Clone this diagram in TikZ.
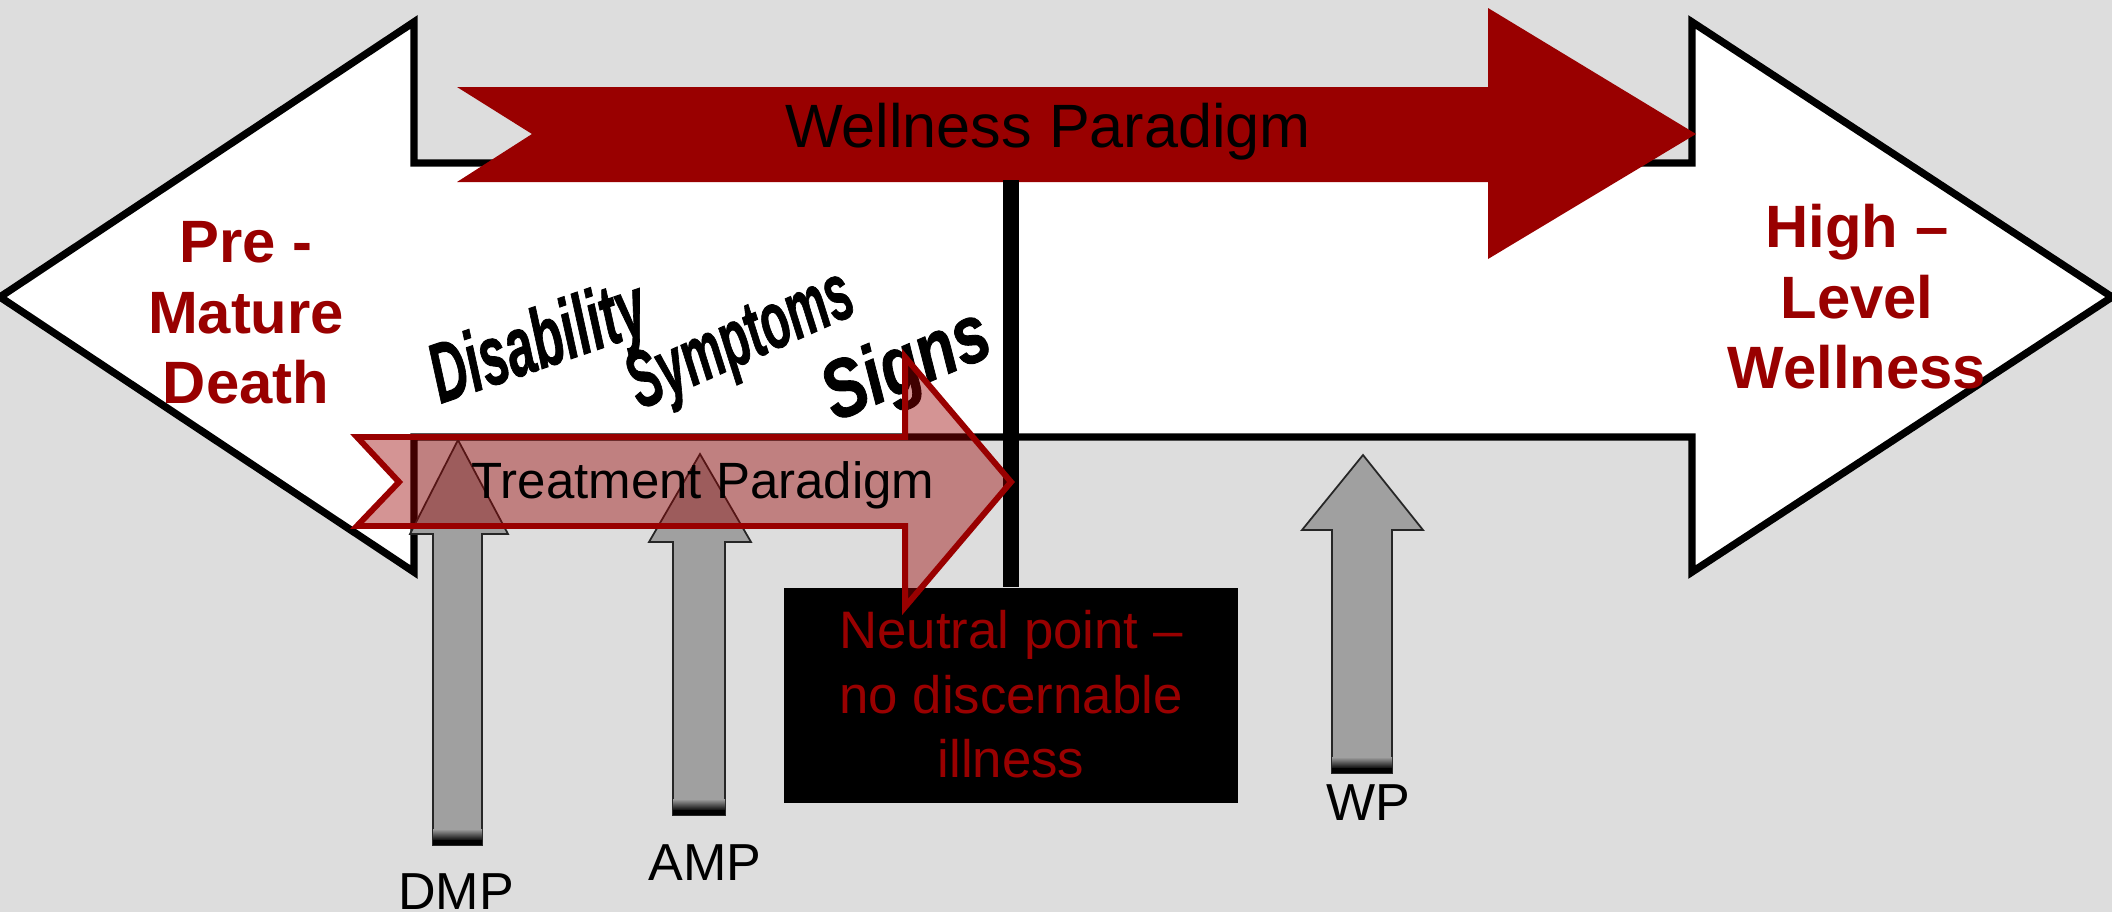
\documentclass[tikz,border=0pt]{standalone}
\usepackage{fontspec}
\setmainfont{Liberation Sans}
\newfontfamily\wafont{Liberation Sans}[BoldItalicFeatures={FakeBold=1.2}]
\definecolor{dred}{HTML}{990000}
\definecolor{bgc}{HTML}{DDDDDD}
\definecolor{arrgray}{HTML}{A0A0A0}
\newcommand{\GrArrow}[8]{%
  \filldraw[uparrow] (#1,#2) -- (#5,#3) -- (#7,#3) -- (#7,#8) -- (#6,#8) -- (#6,#3) -- (#4,#3) -- cycle;
  \shade[top color=arrgray,bottom color=black] (#6,{#8-16}) rectangle (#7,{#8-4});
  \fill[black] (#6,{#8-5}) rectangle (#7,#8);
}
\begin{document}
\begin{tikzpicture}[x=0.01cm,y=-0.01cm,
  outline/.style={draw=black,line width=2.1pt,fill=white},
  uparrow/.style={fill=arrgray,draw=black!85,line width=0.5pt,line join=miter},
  lbl/.style={inner sep=0pt,anchor=base},
  bigred/.style={lbl,text=dred,font=\bfseries\fontsize{17pt}{20pt}\selectfont},
  neutral/.style={lbl,text=dred,font=\fontsize{15pt}{18pt}\selectfont},
  small/.style={lbl,font=\fontsize{14.8pt}{17pt}\selectfont},
  slant/.style={inner sep=0pt,anchor=base west}]
\fill[bgc] (0,0) rectangle (2112,912);
\useasboundingbox (0,0) rectangle (2112,912);
% white double arrow
\draw[outline] (0,297) -- (414,22) -- (414,163) -- (1692,163) -- (1692,22) -- (2112,297)
  -- (1692,572) -- (1692,437) -- (414,437) -- (414,572) -- cycle;
% wellness paradigm arrow
\fill[dred] (457,87) -- (1488,87) -- (1488,8) -- (1696,134) -- (1488,259) -- (1488,182)
  -- (457,182) -- (532,134) -- cycle;
\node[lbl,font=\fontsize{17.4pt}{20pt}\selectfont] (wp) at (1048,147) {Wellness Paradigm};
% neutral line and box
\coordinate (ltop) at (1011,180);
\node[fill=black,minimum width=4.54cm,minimum height=2.15cm,inner sep=0pt,anchor=north west] (box) at (783,587) {};
\draw[line width=4.5pt] (ltop) -- (box.north -| ltop);
\node[neutral] (n1) at (1011,648) {Neutral point –};
\node[neutral] (n2) at (1011,713) {no discernable};
\node[neutral] (n3) at (1011,777) {illness};
% gray arrows
\GrArrow{458}{440}{534}{410}{508}{433}{482}{845}
\GrArrow{700}{454}{542}{649}{751}{673}{725}{815}
\GrArrow{1363}{455}{530}{1302}{1423}{1332}{1392}{773}
\node[small] (dmp) at (456,909) {DMP};
\node[small] (amp) at (705,880) {AMP};
\node[small] (wpl) at (1368,820) {WP};
% slanted words
\node[slant,rotate=19,yscale=1.68,font=\wafont\bfseries\itshape\fontsize{14.3pt}{16pt}\selectfont] (dis) at (440,404) {Disability};
\node[slant,rotate=24,yscale=1.72,font=\wafont\bfseries\itshape\fontsize{13.3pt}{15pt}\selectfont] (sym) at (640,410) {Symptoms};
\node[slant,rotate=23,yscale=1.28,font=\wafont\bfseries\itshape\fontsize{18.2pt}{20pt}\selectfont] (sig) at (835,422) {Signs};
% treatment paradigm arrow
\filldraw[draw=dred,line width=1.7pt,fill=dred,fill opacity=0.42,line join=miter]
  (357,437) -- (905,437) -- (905,357) -- (1011,482) -- (905,607) -- (905,526)
  -- (357,526) -- (399,482) -- cycle;
\node[lbl,font=\fontsize{14.5pt}{17pt}\selectfont] (tp) at (703,498) {Treatment Paradigm};
% end labels
\node[bigred] (p1) at (246,262) {Pre -};
\node[bigred] (p2) at (246,333) {Mature};
\node[bigred] (p3) at (246,403) {Death};
\node[bigred] (h1) at (1857,247) {High –};
\node[bigred] (h2) at (1857,318) {Level};
\node[bigred] (h3) at (1857,388) {Wellness};
\end{tikzpicture}
\end{document}
